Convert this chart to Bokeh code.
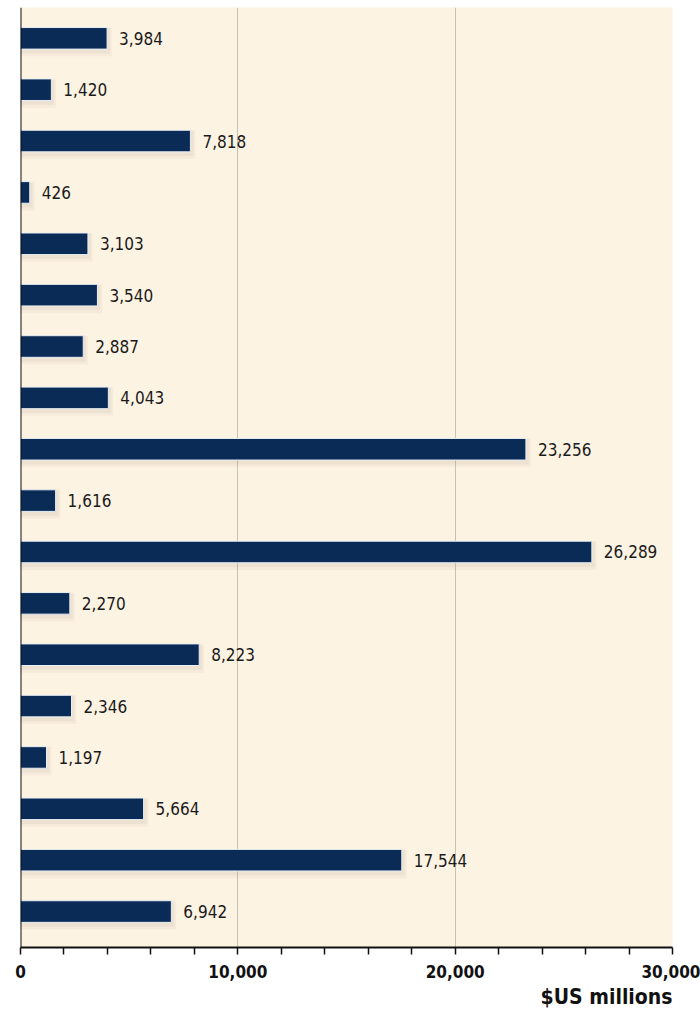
from bokeh.plotting import figure
from bokeh.models import Range1d, FixedTicker, Span, ColumnDataSource, CustomJSTickFormatter, Title
from bokeh.embed import file_html
from bokeh.resources import INLINE
from bokeh.core.properties import value
from bokeh.transform import dodge

values = [3984, 1420, 7818, 426, 3103, 3540, 2887, 4043, 23256, 1616,
          26289, 2270, 8223, 2346, 1197, 5664, 17544, 6942]
major_ticks = [0, 10000, 20000, 30000]
minor_ticks = [2000, 4000, 6000, 8000, 12000, 14000, 16000, 18000,
               22000, 24000, 26000, 28000]
axis_title = "$US millions"

idx = list(range(len(values)))
labels = [f"{v:,}" for v in values]
src = ColumnDataSource(dict(y=idx, v=values, lab=labels))

FONT = "'DejaVu Sans Condensed', Roboto, sans-serif"
BG = "#fdf3e2"
BAR = "#0b2b57"

p = figure(frame_width=652, frame_height=940, output_backend="svg", toolbar_location=None,
           x_range=Range1d(0, 30000), y_range=Range1d(17.7, -0.6),
           min_border_left=20, min_border_right=28, min_border_top=7, min_border_bottom=5,
           background_fill_color=BG, border_fill_color="white", outline_line_color=None)

# soft shadow layers
p.hbar(y=dodge("y", 0.07), right=dodge("v", 220), left=0, height=0.56, source=src,
       fill_color="#9a8f80", fill_alpha=0.07, line_color=None)
p.hbar(y=dodge("y", 0.05), right=dodge("v", 130), left=0, height=0.49, source=src,
       fill_color="#9a8f80", fill_alpha=0.10, line_color=None)
p.hbar(y="y", right="v", left=0, height=0.42, source=src, fill_color=BAR,
       line_color="#e8eef5", line_width=1)
p.text(x="v", y="y", text="lab", source=src, x_offset=12, text_baseline="middle",
       text_align="left", text_font=value(FONT), text_font_size="17px", text_color="#1a1a1a")

p.xaxis.ticker = FixedTicker(ticks=major_ticks, minor_ticks=minor_ticks)
p.xaxis.formatter = CustomJSTickFormatter(code="return tick.toLocaleString('en-US');")
p.xaxis.major_tick_in = 0
p.xaxis.major_tick_out = 7
p.xaxis.minor_tick_in = 0
p.xaxis.minor_tick_out = 7
p.xaxis.axis_line_color = "#111111"
p.xaxis.axis_line_width = 2
p.xaxis.major_tick_line_color = "#111111"
p.xaxis.minor_tick_line_color = "#111111"
p.xaxis.major_tick_line_width = 1.5
p.xaxis.minor_tick_line_width = 1.5
p.xaxis.major_label_text_font = FONT
p.xaxis.major_label_text_font_style = "bold"
p.xaxis.major_label_text_font_size = "17px"
p.xaxis.major_label_text_color = "#111111"
p.xaxis.major_label_standoff = 10
p.yaxis.visible = False

p.xgrid.ticker = FixedTicker(ticks=[10000, 20000])
p.xgrid.grid_line_color = "#c9c1b3"
p.xgrid.grid_line_width = 1
p.ygrid.grid_line_color = None

p.add_layout(Span(location=0, dimension="height", line_color="#111111", line_width=2))

t = Title(text=axis_title, align="right", text_font=FONT, text_font_style="bold",
          text_font_size="21px", text_color="#111111", standoff=4)
p.add_layout(t, "below")

open("out.html", "w").write(file_html(p, INLINE))
